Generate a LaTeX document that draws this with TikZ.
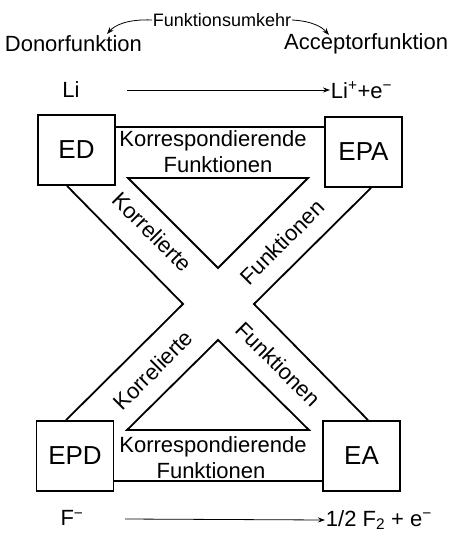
\documentclass[tikz,border=0pt]{standalone}
\usepackage{fontspec}
\setmainfont{Liberation Sans}
\usetikzlibrary{arrows.meta}
\begin{document}
\begin{tikzpicture}[x=1pt,y=-1pt,line width=1.8pt,line join=miter,
  box/.style={draw,minimum width=77pt,minimum height=70pt,inner sep=0pt,font=\fontsize{26}{26}\selectfont},
  lbl/.style={inner sep=0pt,font=\fontsize{22}{22}\selectfont},
  small/.style={inner sep=0pt,font=\fontsize{18}{18}\selectfont},
  thinarrow/.style={line width=0.8pt,-{Stealth[length=7pt,width=5pt]}}]
\useasboundingbox (0,0) rectangle (455,534);
% header
\node[small] (umk) at (222,20) {Funktionsumkehr};
\node[lbl,anchor=west] (donor) at (4,44) {Donorfunktion};
\node[lbl,anchor=east] (acc) at (449,44) {Acceptorfunktion};
\coordinate (ul) at (107,34);
\coordinate (ur) at (329,35);
\draw[thinarrow] (umk.west) .. controls (128,19) and (115,25) .. (ul);
\draw[thinarrow] (umk.east) .. controls (312,21) and (322,27) .. (ur);
\node[lbl] (li) at (71,90) {Li};
\node[lbl,anchor=west] (lip) at (330,90) {Li\textsuperscript{+}+e\textsuperscript{−}};
\draw[thinarrow] (127,90) coordinate (a1) -- (lip.west);
% boxes
\node[box] (ED) at (76.5,150) {ED};
\node[box] (EPA) at (363.5,152) {EPA};
\node[box] (EPD) at (75,456) {EPD};
\node[box] (EA) at (361.5,456) {EA};
% bands
\draw (ED.east |- 0,127) -- (EPA.west |- 0,127);
\draw (EPD.east |- 0,481) -- (EA.west |- 0,481);
\coordinate (jl) at (183,304);
\coordinate (jr) at (254,304);
\draw (ED.south -| 67,0) -- (jl) -- (EPD.north -| 66,0);
\draw (EPA.south -| 371,0) -- (jr) -- (EA.north -| 368,0);
\draw (128,178) -- (308,178) -- (218,268) -- cycle;
\draw (127,430) -- (309,430) -- (218,340) -- cycle;
% band labels
\node[lbl] (k1) at (213,141) {Korrespondierende};
\node[lbl] (f1) at (218,165) {Funktionen};
\node[lbl] (k2) at (213,447) {Korrespondierende};
\node[lbl] (f2) at (211,471) {Funktionen};
\node[lbl,rotate=-45] (kr1) at (152,232) {Korrelierte};
\node[lbl,rotate=45] (fr1) at (282,242) {Funktionen};
\node[lbl,rotate=45] (kr2) at (153,370) {Korrelierte};
\node[lbl,rotate=-45] (fr2) at (278,364) {Funktionen};
% bottom
\node[lbl] (fm) at (72,518) {F\textsuperscript{−}};
\node[lbl,anchor=west] (f2p) at (325,520) {1/2 F\textsubscript{2} + e\textsuperscript{−}};
\draw[thinarrow] (125,519) coordinate (a2) -- (f2p.west);
\end{tikzpicture}
\end{document}
